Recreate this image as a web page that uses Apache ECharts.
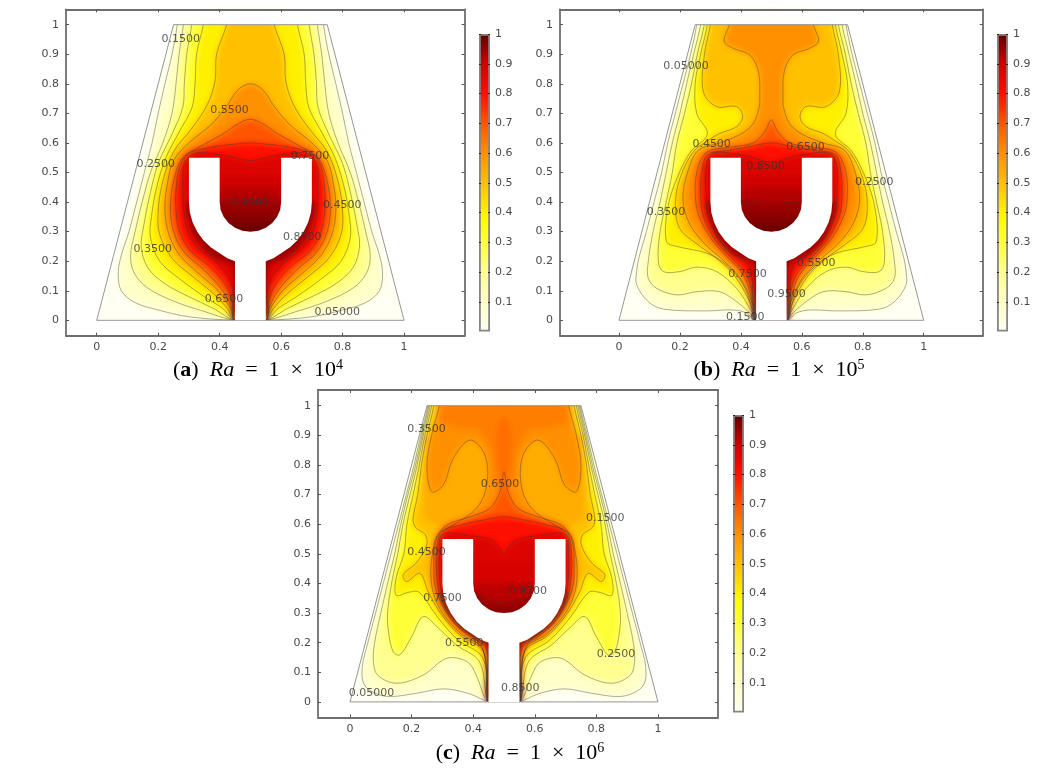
<!DOCTYPE html>
<html>
<head>
<meta charset="utf-8">
<style>
html,body{margin:0;padding:0;background:#fff}
#c{width:1048px;height:771px}
canvas[data-zr-dom-id="zr_0"]{filter:blur(3px)}
canvas[data-zr-dom-id="zr_1"]{filter:blur(0.45px)}
</style>
<script src="https://cdn.jsdelivr.net/npm/echarts@6/dist/echarts.min.js"></script>
</head>
<body>
<div id="c"></div>
<script>
// colour scale: [value, colour]
const colourStops = [[0,'#fffff4'],[0.1,'#ffffc8'],[0.2,'#ffff90'],[0.3,'#ffff38'],[0.37,'#ffff00'],[0.5,'#ffc000'],[0.6,'#ff9000'],[0.7,'#ff5500'],[0.8,'#ff0f00'],[0.9,'#d00000'],[1,'#620000']];
const xTicks = [0,0.2,0.4,0.6,0.8,1];
const yTicks = [0,0.1,0.2,0.3,0.4,0.5,0.6,0.7,0.8,0.9,1];
const barTicks = [0.1,0.2,0.3,0.4,0.5,0.6,0.7,0.8,0.9,1];

// domain and heater body, left half (the figure is symmetric about x = 0.5)
const domainTop = [0.25,0.75];
const bodyHalf = [[0.5,0.3],[0.474,0.303],[0.45,0.313],[0.429,0.329],[0.413,0.35],[0.403,0.374],[0.4,0.4],[0.4,0.55],[0.3,0.55],[0.3,0.4],[0.303,0.365],[0.312,0.332],[0.327,0.3],[0.347,0.271],[0.371,0.247],[0.4,0.227],[0.425,0.21],[0.45,0.2],[0.45,0]];

// isotherms: [level, left-half points]
const contoursA = [
[0.05,[[0.262,1],[0.245,0.9],[0.222,0.8],[0.2,0.7],[0.18,0.6],[0.155,0.5],[0.13,0.4],[0.105,0.3],[0.08,0.22],[0.07,0.16],[0.08,0.1],[0.125,0.06],[0.2,0.035],[0.3,0.012],[0.45,0]]],
[0.15,[[0.282,1],[0.268,0.9],[0.258,0.8],[0.245,0.7],[0.215,0.6],[0.175,0.5],[0.148,0.4],[0.125,0.3],[0.11,0.22],[0.122,0.16],[0.165,0.11],[0.25,0.065],[0.35,0.03],[0.45,0]]],
[0.25,[[0.309,1],[0.293,0.9],[0.285,0.8],[0.28,0.72],[0.245,0.63],[0.2,0.53],[0.172,0.42],[0.153,0.32],[0.145,0.25],[0.165,0.18],[0.22,0.125],[0.3,0.08],[0.38,0.04],[0.45,0]]],
[0.35,[[0.347,1],[0.325,0.9],[0.32,0.8],[0.31,0.72],[0.27,0.64],[0.225,0.55],[0.195,0.45],[0.178,0.35],[0.175,0.28],[0.205,0.2],[0.27,0.14],[0.35,0.08],[0.41,0.04],[0.45,0]]],
[0.45,[[0.423,1],[0.39,0.9],[0.385,0.81],[0.36,0.73],[0.31,0.65],[0.25,0.57],[0.215,0.47],[0.2,0.37],[0.205,0.29],[0.245,0.21],[0.31,0.15],[0.38,0.09],[0.425,0.04],[0.45,0]]],
[0.55,[[0.5,0.8],[0.46,0.78],[0.42,0.72],[0.37,0.66],[0.3,0.6],[0.25,0.54],[0.228,0.45],[0.222,0.37],[0.235,0.29],[0.27,0.22],[0.33,0.16],[0.395,0.1],[0.435,0.04],[0.45,0]]],
[0.65,[[0.5,0.68],[0.46,0.665],[0.41,0.63],[0.34,0.59],[0.28,0.55],[0.25,0.47],[0.24,0.38],[0.25,0.3],[0.285,0.23],[0.35,0.17],[0.41,0.1],[0.44,0.04],[0.45,0]]],
[0.75,[[0.5,0.6],[0.44,0.595],[0.37,0.585],[0.3,0.565],[0.27,0.52],[0.258,0.44],[0.258,0.37],[0.27,0.3],[0.305,0.235],[0.37,0.18],[0.425,0.11],[0.445,0.04],[0.45,0]]],
[0.85,[[0.5,0.54],[0.45,0.55],[0.4,0.56],[0.32,0.565],[0.285,0.53],[0.28,0.45],[0.283,0.37],[0.3,0.29],[0.335,0.24],[0.395,0.19],[0.44,0.12],[0.45,0]]],
[0.95,[[0.5,0.4],[0.4,0.4],[0.295,0.4],[0.305,0.33],[0.33,0.27],[0.38,0.215],[0.44,0.19],[0.45,0.1],[0.45,0]]]
];
const contoursB = [
[0.05,[[0.255,1],[0.235,0.9],[0.21,0.8],[0.185,0.7],[0.16,0.6],[0.14,0.5],[0.115,0.4],[0.09,0.3],[0.065,0.21],[0.058,0.165],[0.058,0.12],[0.096,0.063],[0.146,0.038],[0.288,0.032],[0.375,0.035],[0.42,0.024],[0.447,0]]],
[0.15,[[0.268,1],[0.245,0.9],[0.222,0.8],[0.2,0.7],[0.175,0.6],[0.155,0.5],[0.135,0.4],[0.112,0.3],[0.096,0.198],[0.096,0.142],[0.124,0.108],[0.19,0.086],[0.255,0.097],[0.33,0.097],[0.386,0.063],[0.43,0.024],[0.45,0]]],
[0.25,[[0.28,1],[0.257,0.9],[0.238,0.8],[0.215,0.7],[0.19,0.6],[0.175,0.5],[0.155,0.4],[0.135,0.3],[0.129,0.198],[0.146,0.165],[0.2,0.165],[0.255,0.18],[0.32,0.165],[0.386,0.108],[0.435,0.03],[0.45,0]]],
[0.35,[[0.29,1],[0.268,0.9],[0.25,0.8],[0.255,0.7],[0.29,0.63],[0.235,0.57],[0.19,0.48],[0.16,0.38],[0.156,0.266],[0.19,0.25],[0.288,0.227],[0.353,0.187],[0.408,0.12],[0.44,0.03],[0.45,0]]],
[0.45,[[0.3,1],[0.28,0.897],[0.277,0.773],[0.32,0.723],[0.386,0.723],[0.406,0.689],[0.386,0.655],[0.33,0.632],[0.295,0.61],[0.244,0.57],[0.2,0.48],[0.185,0.39],[0.2,0.31],[0.26,0.255],[0.32,0.21],[0.38,0.15],[0.43,0.06],[0.45,0]]],
[0.55,[[0.362,1],[0.345,0.945],[0.375,0.92],[0.43,0.897],[0.458,0.84],[0.462,0.75],[0.46,0.72],[0.44,0.665],[0.4,0.63],[0.33,0.6],[0.26,0.575],[0.225,0.5],[0.21,0.41],[0.23,0.33],[0.28,0.26],[0.34,0.205],[0.4,0.14],[0.44,0.05],[0.45,0]]],
[0.65,[[0.5,0.678],[0.48,0.64],[0.44,0.6],[0.36,0.585],[0.29,0.57],[0.26,0.52],[0.25,0.44],[0.26,0.36],[0.3,0.28],[0.35,0.22],[0.41,0.15],[0.445,0.03],[0.45,0]]],
[0.75,[[0.5,0.6],[0.44,0.59],[0.36,0.575],[0.29,0.56],[0.272,0.5],[0.268,0.43],[0.275,0.36],[0.31,0.28],[0.36,0.22],[0.42,0.15],[0.447,0.03],[0.45,0]]],
[0.85,[[0.5,0.535],[0.44,0.55],[0.4,0.56],[0.31,0.565],[0.285,0.52],[0.285,0.43],[0.29,0.36],[0.32,0.29],[0.37,0.235],[0.43,0.18],[0.45,0]]],
[0.95,[[0.5,0.395],[0.4,0.4],[0.292,0.4],[0.305,0.33],[0.33,0.27],[0.38,0.22],[0.445,0.19],[0.45,0]]]
];
const contoursC = [
[0.05,[[0.253,1],[0.23,0.9],[0.208,0.8],[0.183,0.7],[0.158,0.6],[0.133,0.5],[0.108,0.4],[0.083,0.3],[0.058,0.2],[0.04,0.12],[0.045,0.06],[0.08,0.03],[0.13,0.018],[0.22,0.03],[0.303,0.044],[0.38,0.03],[0.433,0.007],[0.45,0]]],
[0.15,[[0.256,1],[0.234,0.9],[0.213,0.8],[0.188,0.7],[0.165,0.6],[0.145,0.5],[0.122,0.4],[0.1,0.3],[0.08,0.2],[0.076,0.136],[0.09,0.09],[0.152,0.063],[0.238,0.091],[0.314,0.147],[0.38,0.136],[0.41,0.09],[0.438,0.012],[0.45,0]]],
[0.25,[[0.26,1],[0.238,0.9],[0.218,0.8],[0.195,0.7],[0.172,0.6],[0.155,0.5],[0.135,0.4],[0.122,0.3],[0.125,0.237],[0.14,0.17],[0.162,0.159],[0.2,0.22],[0.238,0.288],[0.287,0.249],[0.346,0.192],[0.42,0.136],[0.444,0.012],[0.45,0]]],
[0.35,[[0.265,1],[0.243,0.9],[0.225,0.8],[0.205,0.7],[0.185,0.6],[0.175,0.5],[0.15,0.42],[0.15,0.36],[0.19,0.37],[0.225,0.37],[0.285,0.285],[0.35,0.21],[0.43,0.15],[0.447,0.03],[0.45,0]]],
[0.45,[[0.272,1],[0.25,0.9],[0.232,0.8],[0.22,0.7],[0.205,0.62],[0.212,0.59],[0.244,0.565],[0.249,0.53],[0.216,0.47],[0.173,0.43],[0.184,0.406],[0.227,0.434],[0.254,0.372],[0.297,0.295],[0.357,0.225],[0.433,0.17],[0.447,0.03],[0.45,0]]],
[0.55,[[0.29,1],[0.265,0.9],[0.25,0.8],[0.265,0.71],[0.303,0.732],[0.335,0.822],[0.39,0.884],[0.438,0.833],[0.444,0.732],[0.411,0.654],[0.335,0.597],[0.285,0.565],[0.268,0.5],[0.262,0.44],[0.27,0.37],[0.3,0.3],[0.36,0.23],[0.43,0.18],[0.447,0.03],[0.45,0]]],
[0.65,[[0.5,0.777],[0.487,0.71],[0.455,0.654],[0.39,0.625],[0.314,0.597],[0.281,0.552],[0.272,0.462],[0.281,0.372],[0.335,0.271],[0.422,0.198],[0.444,0.1],[0.447,0.03],[0.45,0]]],
[0.75,[[0.5,0.625],[0.44,0.615],[0.37,0.6],[0.3,0.575],[0.282,0.52],[0.284,0.4],[0.302,0.33],[0.34,0.265],[0.39,0.22],[0.44,0.185],[0.447,0.1],[0.45,0]]],
[0.85,[[0.5,0.5],[0.48,0.53],[0.455,0.548],[0.4,0.56],[0.3,0.565],[0.29,0.5],[0.292,0.4],[0.307,0.33],[0.345,0.27],[0.4,0.22],[0.445,0.19],[0.449,0.1],[0.45,0]]],
[0.95,[[0.5,0.333],[0.44,0.345],[0.4,0.37],[0.296,0.37],[0.31,0.32],[0.35,0.265],[0.4,0.222],[0.448,0.197],[0.45,0]]]
];

// temperature shading without a drawn line: [value, left-half points]
const shadeA = [
[0.9,[[0.5,0.49],[0.39,0.49],[0.39,0.28],[0.5,0.28]]],
[0.925,[[0.5,0.445],[0.39,0.445],[0.39,0.28],[0.5,0.28]]],
[0.97,[[0.5,0.36],[0.39,0.36],[0.39,0.28],[0.5,0.28]]],
[0.99,[[0.5,0.325],[0.39,0.325],[0.39,0.28],[0.5,0.28]]]
];
const shadeB = [
[0.9,[[0.5,0.49],[0.39,0.49],[0.39,0.28],[0.5,0.28]]],
[0.925,[[0.5,0.445],[0.39,0.445],[0.39,0.28],[0.5,0.28]]],
[0.97,[[0.5,0.36],[0.39,0.36],[0.39,0.28],[0.5,0.28]]],
[0.99,[[0.5,0.325],[0.39,0.325],[0.39,0.28],[0.5,0.28]]]
];
const shadeC = [
[0.54,[[0.5,0.9],[0.24,0.9],[0.24,0.62],[0.3,0.59],[0.5,0.59]]],
[0.63,[[0.5,1.03],[0.29,1.03],[0.285,0.95],[0.34,0.925],[0.42,0.92],[0.46,0.85],[0.47,0.74],[0.5,0.7]]],
[0.66,[[0.5,0.97],[0.475,0.92],[0.48,0.8],[0.5,0.74]]],
[0.89,[[0.5,0.47],[0.39,0.47],[0.39,0.28],[0.5,0.28]]],
[0.92,[[0.5,0.4],[0.39,0.4],[0.39,0.28],[0.5,0.28]]],
[0.97,[[0.5,0.31],[0.39,0.31],[0.39,0.28],[0.5,0.28]]]
];

// contour labels: [x, y, text]
const labelsA = [[0.273,0.95,'0.1500'],[0.432,0.71,'0.5500'],[0.192,0.529,'0.2500'],[0.694,0.554,'0.7500'],[0.497,0.398,'0.9500'],[0.799,0.39,'0.4500'],[0.669,0.281,'0.8500'],[0.182,0.242,'0.3500'],[0.414,0.072,'0.6500'],[0.783,0.029,'0.05000']];
const labelsB = [[0.22,0.859,'0.05000'],[0.304,0.596,'0.4500'],[0.612,0.587,'0.6500'],[0.481,0.52,'0.8500'],[0.838,0.468,'0.2500'],[0.154,0.366,'0.3500'],[0.647,0.194,'0.5500'],[0.422,0.156,'0.7500'],[0.55,0.088,'0.9500'],[0.414,0.012,'0.1500']];
const labelsC = [[0.248,0.921,'0.3500'],[0.487,0.736,'0.6500'],[0.829,0.622,'0.1500'],[0.248,0.505,'0.4500'],[0.577,0.373,'0.9500'],[0.3,0.349,'0.7500'],[0.371,0.198,'0.5500'],[0.864,0.161,'0.2500'],[0.553,0.045,'0.8500'],[0.07,0.028,'0.05000']];

const captions = [['a','4'],['b','5'],['c','6']];

// layout of each panel
const panels = [
 {contours:contoursA,shade:shadeA,labels:labelsA,left:66,width:398.6,top:9.3,height:326.4,xr:[-0.1,1.197],yr:[-0.052,1.052],barLeft:479,barTop:34,barH:297.5,capX:258,capY:370},
 {contours:contoursB,shade:shadeB,labels:labelsB,left:560,width:422.7,top:9.3,height:326.4,xr:[-0.1936,1.1936],yr:[-0.052,1.052],barLeft:997,barTop:34,barH:297.5,capX:779,capY:370},
 {contours:contoursC,shade:shadeC,labels:labelsC,left:318,width:400,top:390,height:327.3,xr:[-0.104,1.195],yr:[-0.052,1.053],barLeft:733,barTop:415,barH:297.5,capX:520,capY:753}
];

function parseHex(h){return [1,3,5].map(i=>parseInt(h.substr(i,2),16));}
function colourAt(v){
  for(let i=1;i<colourStops.length;i++){
    if(v<=colourStops[i][0]){
      const [a,ca]=colourStops[i-1],[b,cb]=colourStops[i];
      const t=(v-a)/(b-a),p=parseHex(ca),q=parseHex(cb);
      return 'rgb('+p.map((c,k)=>Math.round(c+(q[k]-c)*t)).join(',')+')';
    }
  }
  return colourStops[colourStops.length-1][1];
}
function closeHalf(half){
  let pts=half.slice();
  if(pts[0][1]===1) pts=[[pts[0][0],1.03]].concat(pts);
  const right=pts.slice().reverse().filter(p=>p[0]!==0.5).map(p=>[1-p[0],p[1]]);
  return pts.concat(right);
}
function polySeries(axisIdx,zlevel,z,polys,styleFn,smoothFn){
  return {type:'custom',coordinateSystem:'cartesian2d',xAxisIndex:axisIdx,yAxisIndex:axisIdx,zlevel,z,silent:true,animation:false,
    data:polys.map((p,i)=>[0.5,0.5,i]),
    encode:{x:0,y:1},
    renderItem:function(params,api){
      const i=api.value(2);
      return {type:'polygon',shape:{points:polys[i].map(q=>api.coord(q)),smooth:smoothFn?smoothFn(i):0},style:styleFn(i),silent:true};
    }};
}
function fillValue(level){
  if(level===0.85) return 0.875;
  if(level===0.95) return 0.95;
  return level+0.05;
}

const grids=[],xAxes=[],yAxes=[],series=[],graphics=[];
const axisColour='#6e6e6e',textColour='#4a4a4a',tickFont={fontFamily:'DejaVu Sans',fontSize:11,color:textColour};
panels.forEach((p,n)=>{
  const gridIdx=grids.length, idx=xAxes.length;
  grids.push({left:p.left,top:p.top,width:p.width,height:p.height,zlevel:1});
  const base={type:'value',zlevel:1,z:9,splitLine:{show:false},axisLine:{show:true,onZero:false,lineStyle:{color:axisColour,width:1.8}},axisTick:{show:true,inside:true,length:3,lineStyle:{color:'#555',width:1}}};
  const ax={...base,gridIndex:gridIdx,min:p.xr[0],max:p.xr[1],position:'bottom',axisTick:{...base.axisTick,customValues:xTicks},axisLabel:{...tickFont,margin:6,customValues:xTicks,formatter:v=>String(v)}};
  const ay={...base,gridIndex:gridIdx,min:p.yr[0],max:p.yr[1],position:'left',axisTick:{...base.axisTick,customValues:yTicks},axisLabel:{...tickFont,margin:7,customValues:yTicks,formatter:v=>String(v)}};
  xAxes.push(ax); yAxes.push(ay);
  xAxes.push({...ax,position:'top',axisLabel:{show:false}});
  yAxes.push({...ay,position:'right',axisLabel:{show:false}});
  const polys=p.contours.map(c=>closeHalf(c[1]));
  // filled bands on the softened canvas layer
  const fills=p.contours.map(c=>({v:fillValue(c[0]),poly:closeHalf(c[1]),smooth:0.35}))
    .concat(p.shade.map(s=>({v:s[0],poly:closeHalf(s[1]),smooth:0})))
    .sort((u,w)=>u.v-w.v);
  const [x0,x1]=p.xr,[y0,y1]=p.yr;
  series.push(polySeries(idx,0,1,[[[-0.02,-0.02],[1.02,-0.02],[0.8,1.02],[0.2,1.02]]],()=>({fill:colourAt(0.0)})));
  series.push(polySeries(idx,0,2,fills.map(f=>f.poly),i=>({fill:colourAt(fills[i].v)}),i=>fills[i].smooth));
  // isotherm lines
  series.push(polySeries(idx,1,2,polys,()=>({fill:'none',stroke:'rgba(55,55,55,0.52)',lineWidth:0.8}),()=>0.35));
  // everything outside the trapezoid is white
  const a=domainTop[0],b=domainTop[1];
  const masks=[[[x0,y0],[0,0],[a,1],[a,y1],[x0,y1]],[[x1,y0],[1,0],[b,1],[b,y1],[x1,y1]],[[x0,y0],[x1,y0],[x1,0],[x0,0]],[[x0,1],[x1,1],[x1,y1],[x0,y1]]];
  series.push(polySeries(idx,1,3,masks,()=>({fill:'#fff'})));
  series.push(polySeries(idx,1,4,[[[0,0],[1,0],[b,1],[a,1]]],()=>({fill:'none',stroke:'#8a8a8a',lineWidth:0.9})));
  // heater body
  series.push(polySeries(idx,1,5,[closeHalf(bodyHalf)],()=>({fill:'#fff'})));
  // contour labels
  series.push({type:'scatter',xAxisIndex:idx,yAxisIndex:idx,zlevel:1,z:6,symbolSize:0,silent:true,animation:false,
    data:p.labels.map(l=>({value:[l[0],l[1]],name:l[2]})),
    label:{show:true,position:'inside',fontFamily:'DejaVu Sans',fontSize:11,color:'#333',formatter:d=>d.name}});
  // colour bar
  const barGrid=grids.length, barIdx=xAxes.length;
  grids.push({left:p.barLeft,top:p.barTop,width:11,height:p.barH,zlevel:1});
  const barTickStyle={show:true,inside:true,length:2,customValues:barTicks,lineStyle:{color:'#3a1a00',width:1}};
  xAxes.push({type:'category',gridIndex:barGrid,data:['T'],zlevel:1,axisLine:{show:false},axisTick:{show:false},axisLabel:{show:false}});
  yAxes.push({type:'value',gridIndex:barGrid,min:0,max:1,position:'right',interval:0.1,zlevel:1,z:9,splitLine:{show:false},axisLine:{show:false},
    axisTick:barTickStyle,axisLabel:{...tickFont,margin:5,customValues:barTicks,formatter:v=>String(v)}});
  yAxes.push({type:'value',gridIndex:barGrid,min:0,max:1,position:'left',interval:0.1,zlevel:1,z:9,splitLine:{show:false},axisLine:{show:false},axisTick:barTickStyle,axisLabel:{show:false}});
  xAxes.push({type:'category',gridIndex:barGrid,data:['T'],zlevel:1,position:'top',axisLine:{show:false},axisTick:{show:false},axisLabel:{show:false}});
  series.push({type:'bar',xAxisIndex:barIdx,yAxisIndex:barIdx,zlevel:1,z:3,barWidth:'100%',silent:true,animation:false,data:[1],
    itemStyle:{borderColor:'#858585',borderWidth:1.8,color:new echarts.graphic.LinearGradient(0,1,0,0,colourStops.map(s=>({offset:s[0],color:s[1]})))}});
  // caption
  const cap=captions[n];
  graphics.push({type:'text',x:p.capX,y:p.capY,zlevel:1,z:20,silent:true,
    style:{align:'center',verticalAlign:'middle',
      text:'{n|(}{b|'+cap[0]+'}{n|)  }{i|Ra}{n|  =  1  ×  10}{s|'+cap[1]+'}',
      rich:{n:{fontFamily:'Liberation Serif',fontSize:22,lineHeight:24,color:'#111'},
            b:{fontFamily:'Liberation Serif',fontSize:22,lineHeight:24,fontWeight:'bold',color:'#111'},
            i:{fontFamily:'Liberation Serif',fontSize:22,lineHeight:24,fontStyle:'italic',color:'#111'},
            s:{fontFamily:'Liberation Serif',fontSize:14,lineHeight:24,verticalAlign:'top',color:'#111'}}}});
});

const chart=echarts.init(document.getElementById('c'),null,{renderer:'canvas',width:1048,height:771});
chart.setOption({animation:false,backgroundColor:'#fff',grid:grids,xAxis:xAxes,yAxis:yAxes,series,graphic:graphics});
</script>
</body>
</html>
